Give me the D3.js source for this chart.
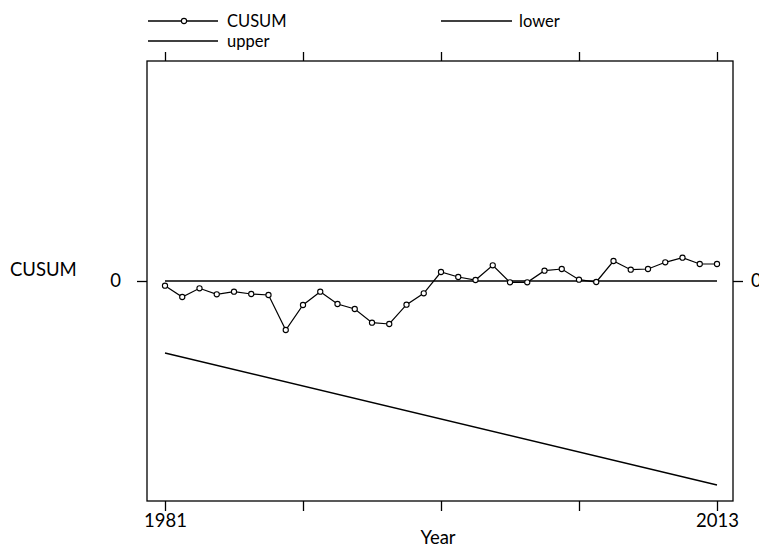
<!DOCTYPE html>
<html><head><meta charset="utf-8">
<script src="https://cdn.jsdelivr.net/npm/d3@7"></script>
<style>body{margin:0;background:#fff}svg{display:block}text{font-family:Lato,"Noto Sans",sans-serif;fill:#000}</style>
</head><body>
<svg id="c" width="759" height="547"></svg>
<script>
const years = d3.range(1981, 2014);
const cusum = [-0.47,-1.6,-0.73,-1.33,-1.07,-1.3,-1.4,-4.9,-2.4,-1.07,-2.3,-2.8,-4.17,-4.3,-2.37,-1.23,
  0.9,0.4,0.1,1.57,-0.13,-0.13,1.03,1.2,0.13,-0.1,2.0,1.13,1.2,1.87,2.33,1.7,1.7];
const lowerYears = [1981, 2013];
const lowerVals = [-7.2, -20.4];
const upperVals = []; // upper bound not visible in the chart
const xTicks = [1981, 1989, 1997, 2005, 2013];
const xTickLabels = ["1981", "", "", "", "2013"];
const yTicks = [0];
const yDomain = [-22, 22];

const FS = 18.5, LFS = 16.5;
const FF = "Lato,'Noto Sans',sans-serif";
const svg = d3.select("#c");
const L = 147, R = 733, T = 61, B = 501;
const x = d3.scaleLinear().domain([1981, 2013]).range([165, 717]);
const y = d3.scaleLinear().domain(yDomain).range([B, T]);

// frame
svg.append("rect").attr("x", L).attr("y", T).attr("width", R - L).attr("height", B - T)
  .attr("fill", "none").attr("stroke", "#000").attr("stroke-width", 1.3);

const styleAxis = g => { g.select(".domain").remove(); g.selectAll("line").attr("stroke-width", 1.3);
  g.selectAll("text").attr("font-size", FS).style("font-family", FF); };

svg.append("g").attr("transform", `translate(0,${B})`)
  .call(d3.axisBottom(x).tickValues(xTicks).tickFormat((d, i) => xTickLabels[i]).tickSize(10).tickPadding(3))
  .call(styleAxis);
svg.append("g").attr("transform", `translate(0,${T})`)
  .call(d3.axisTop(x).tickValues(xTicks).tickFormat("").tickSize(9))
  .call(styleAxis);
svg.append("g").attr("transform", `translate(${L},0)`)
  .call(d3.axisLeft(y).tickValues(yTicks).tickFormat(d3.format("d")).tickSize(10).tickPadding(16))
  .call(styleAxis);
svg.append("g").attr("transform", `translate(${R},0)`)
  .call(d3.axisRight(y).tickValues(yTicks).tickFormat(d3.format("d")).tickSize(10).tickPadding(8))
  .call(styleAxis);

// axis titles
svg.append("text").attr("x", 438).attr("y", 544).attr("text-anchor", "middle").attr("font-size", FS).text("Year");
svg.append("text").attr("x", 10).attr("y", 276).attr("font-size", FS).text("CUSUM");

// zero line
svg.append("line").attr("x1", x(1981)).attr("x2", x(2013)).attr("y1", y(0)).attr("y2", y(0))
  .attr("stroke", "#000").attr("stroke-width", 1.3);

// lower bound
const line = d3.line().x(d => x(d[0])).y(d => y(d[1]));
svg.append("path").datum(lowerYears.map((yr, i) => [yr, lowerVals[i]]))
  .attr("d", line).attr("fill", "none").attr("stroke", "#000").attr("stroke-width", 1.3);

// CUSUM
const cdata = years.map((yr, i) => [yr, cusum[i]]);
svg.append("path").datum(cdata).attr("d", line).attr("fill", "none").attr("stroke", "#000").attr("stroke-width", 1.2);
svg.selectAll("circle.pt").data(cdata).join("circle").attr("class", "pt")
  .attr("cx", d => x(d[0])).attr("cy", d => y(d[1])).attr("r", 2.6)
  .attr("fill", "#fff").attr("stroke", "#000").attr("stroke-width", 1.1);

// legend
const lg = svg.append("g");
lg.append("line").attr("x1", 148).attr("x2", 218).attr("y1", 21).attr("y2", 21).attr("stroke", "#000").attr("stroke-width", 1.3);
lg.append("circle").attr("cx", 184).attr("cy", 21).attr("r", 2.6).attr("fill", "#fff").attr("stroke", "#000").attr("stroke-width", 1.1);
lg.append("text").attr("x", 227).attr("y", 26.5).attr("font-size", LFS).text("CUSUM");
lg.append("line").attr("x1", 148).attr("x2", 218).attr("y1", 41).attr("y2", 41).attr("stroke", "#000").attr("stroke-width", 1.3);
lg.append("text").attr("x", 227).attr("y", 46.5).attr("font-size", LFS).text("upper");
lg.append("line").attr("x1", 441).attr("x2", 512).attr("y1", 21).attr("y2", 21).attr("stroke", "#000").attr("stroke-width", 1.3);
lg.append("text").attr("x", 519).attr("y", 26.5).attr("font-size", LFS).text("lower");
</script>
</body></html>
